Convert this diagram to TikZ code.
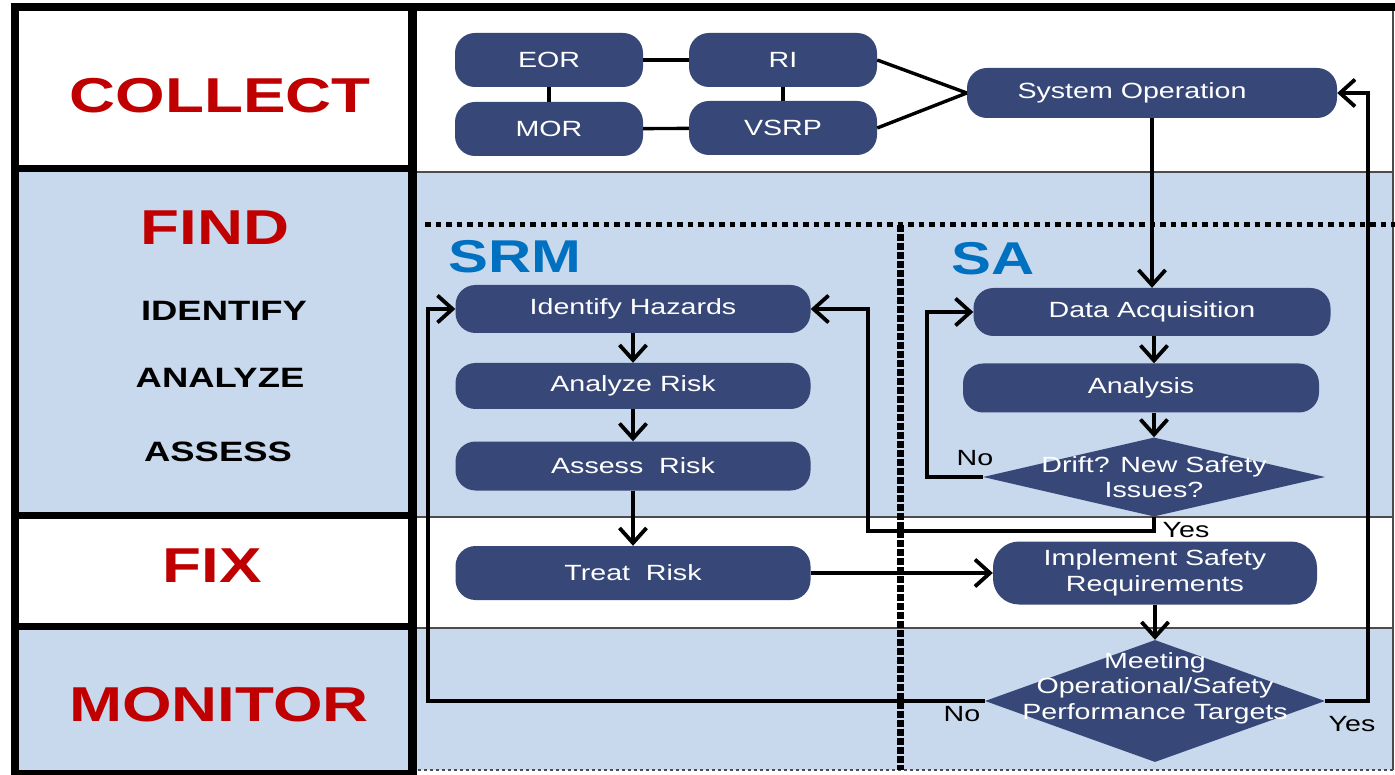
\documentclass[tikz,border=0pt]{standalone}
\usepackage{fontspec}
\setmainfont{Liberation Sans}[FakeStretch=1.3]
\usetikzlibrary{shapes.geometric,arrows.meta}
\definecolor{boxblue}{RGB}{55,72,120}
\definecolor{laneblue}{RGB}{200,217,237}
\definecolor{phasered}{RGB}{192,0,0}
\definecolor{teamblue}{RGB}{0,112,192}
\begin{document}
\begin{tikzpicture}[x=1pt,y=-1pt,
      task/.style={rectangle,rounded corners=20pt,fill=boxblue,text=white,inner sep=0pt,%
        align=center,font=\fontsize{22}{26}\selectfont},
      decision/.style={diamond,fill=boxblue,inner sep=0pt},
      dtext/.style={text=white,align=center,font=\fontsize{22}{25.5}\selectfont},
      phase/.style={text=phasered,font=\bfseries\fontsize{49}{49}\selectfont},
      activity/.style={font=\bfseries\fontsize{28}{28}\selectfont},
      team/.style={text=teamblue,font=\bfseries\fontsize{46}{46}\selectfont},
      note/.style={font=\fontsize{22}{22}\selectfont},
      link/.style={line width=3.4pt},
      flow/.style={line width=3.8pt,->},
      >={Straight Barb[length=15pt,width=27pt]}]
      \useasboundingbox (0,0) rectangle (1395,775) ;
      \fill[white] (0,0) rectangle (1395,775) ;
      % lanes
      \fill[laneblue] (412,172) rectangle (1393,517) ;
      \fill[laneblue] (412,628) rectangle (1393,770) ;
      \fill[laneblue] (15,169) rectangle (412,515) ;
      \fill[laneblue] (15,626) rectangle (412,773) ;
      \draw[gray!60!black,line width=1.2pt] (412,172)--(1393,172) (412,517)--(1393,517) %
        (412,628)--(1393,628) (1393,7)--(1393,770) ;
      \draw[gray!60!black,line width=1.2pt,dashed] (412,770)--(1393,770) ;
      \draw[line width=8pt] (15,775)--(15,7)--(1395,7) ;
      \draw[line width=9pt] (412,7)--(412,775) ;
      \draw[line width=7pt] (15,169)--(412,169) (15,515)--(412,515) (15,626)--(412,626) %
        (15,773)--(412,773) ;
      \node[phase] (collect) at (220,96) {COLLECT} ;
      \node[phase] (find) at (215,228) {FIND} ;
      \node[activity] (identify) at (224,311) {IDENTIFY} ;
      \node[activity] (analyze) at (220,378) {ANALYZE} ;
      \node[activity] (assess) at (218,452) {ASSESS} ;
      \node[phase] (fix) at (212,566) {FIX} ;
      \node[phase] (monitor) at (219,705) {MONITOR} ;
      % SRM and SA split
      \draw[line width=5pt,dash pattern=on 5.5pt off 5pt] (425,225)--(1395,225) ;
      \draw[line width=7pt,dash pattern=on 7pt off 2pt] (900,225)--(900,770) ;
      \node[team] (srm) at (515,257) {SRM} ;
      \node[team] (sa) at (993,259) {SA} ;
      % collect
      \node[task,minimum width=188pt,minimum height=54pt] (eor) at (549,60) {EOR} ;
      \node[task,minimum width=188pt,minimum height=54pt] (ri) at (783,60) {RI} ;
      \node[task,minimum width=188pt,minimum height=54pt] (mor) at (549,129) {MOR} ;
      \node[task,minimum width=188pt,minimum height=54pt] (vsrp) at (783,128) {VSRP} ;
      \node[task,minimum width=370pt,minimum height=50pt] (sysop) at (1152,93) {System Operation\hspace*{40pt}} ;
      \draw[link] (eor)--(ri) ;
      \draw[link] (mor)--(vsrp) ;
      \draw[link] (eor)--(mor) ;
      \draw[link] (ri)--(vsrp) ;
      \draw[link] (ri.east)--(sysop.west) ;
      \draw[link] (vsrp.east)--(sysop.west) ;
      % safety risk management
      \node[task,minimum width=355pt,minimum height=48pt] (hazard) at (633,309) {Identify Hazards} ;
      \node[task,minimum width=355pt,minimum height=46pt] (anrisk) at (633,386) {Analyze Risk} ;
      \node[task,minimum width=355pt,minimum height=49pt] (asrisk) at (633,466) {Assess\ \ Risk} ;
      \node[task,minimum width=355pt,minimum height=54pt] (treat) at (633,573) {Treat\ \ Risk} ;
      % safety assurance
      \node[task,minimum width=357pt,minimum height=48pt] (acq) at (1152,312) {Data Acquisition} ;
      \node[task,minimum width=356pt,minimum height=49pt] (analysis) at (1141,388) {Analysis} ;
      \node[decision,minimum width=342pt,minimum height=79pt] (drift) at (1154,477) {} ;
      \node[dtext] (drifttext) at (drift) {Drift? New Safety\\Issues?} ;
      \node[task,minimum width=324pt,minimum height=63pt,rounded corners=26pt] (impl) %
        at (1155,573) {Implement Safety\\Requirements} ;
      \node[decision,minimum width=340pt,minimum height=122pt] (meet) at (1155,701) {} ;
      \node[dtext,yshift=13pt] (meettext) at (meet) %
        {Meeting\\Operational/Safety\\Performance Targets} ;
      \draw[flow] (sysop)--(acq) ;
      \draw[flow] (hazard)--(anrisk) ;
      \draw[flow] (anrisk)--(asrisk) ;
      \draw[flow] (asrisk)--(treat) ;
      \draw[flow] (drift.north |- acq.south)--(drift.north |- analysis.north) ;
      \draw[flow] (drift.north |- analysis.south)--(drift.north) ;
      \draw[flow] (treat)--(impl) ;
      \draw[flow] (impl)--(meet) ;
      \draw[flow] (drift.west)--++(-56,0) |- (acq.west) ;
      \draw[flow] (drift.south)--++(0,14)--++(-286,0) |- (hazard.east) ;
      \draw[flow] (meet.west)--++(-557,0) |- (hazard.west) ;
      \draw[flow] (meet.east)--++(43,0) |- (sysop.east) ;
      \node[note] (no1) at (975,458) {No} ;
      \node[note] (yes1) at (1186,530) {Yes} ;
      \node[note] (no2) at (962,714) {No} ;
      \node[note] (yes2) at (1352,724) {Yes} ;
\end{tikzpicture}
\end{document}
